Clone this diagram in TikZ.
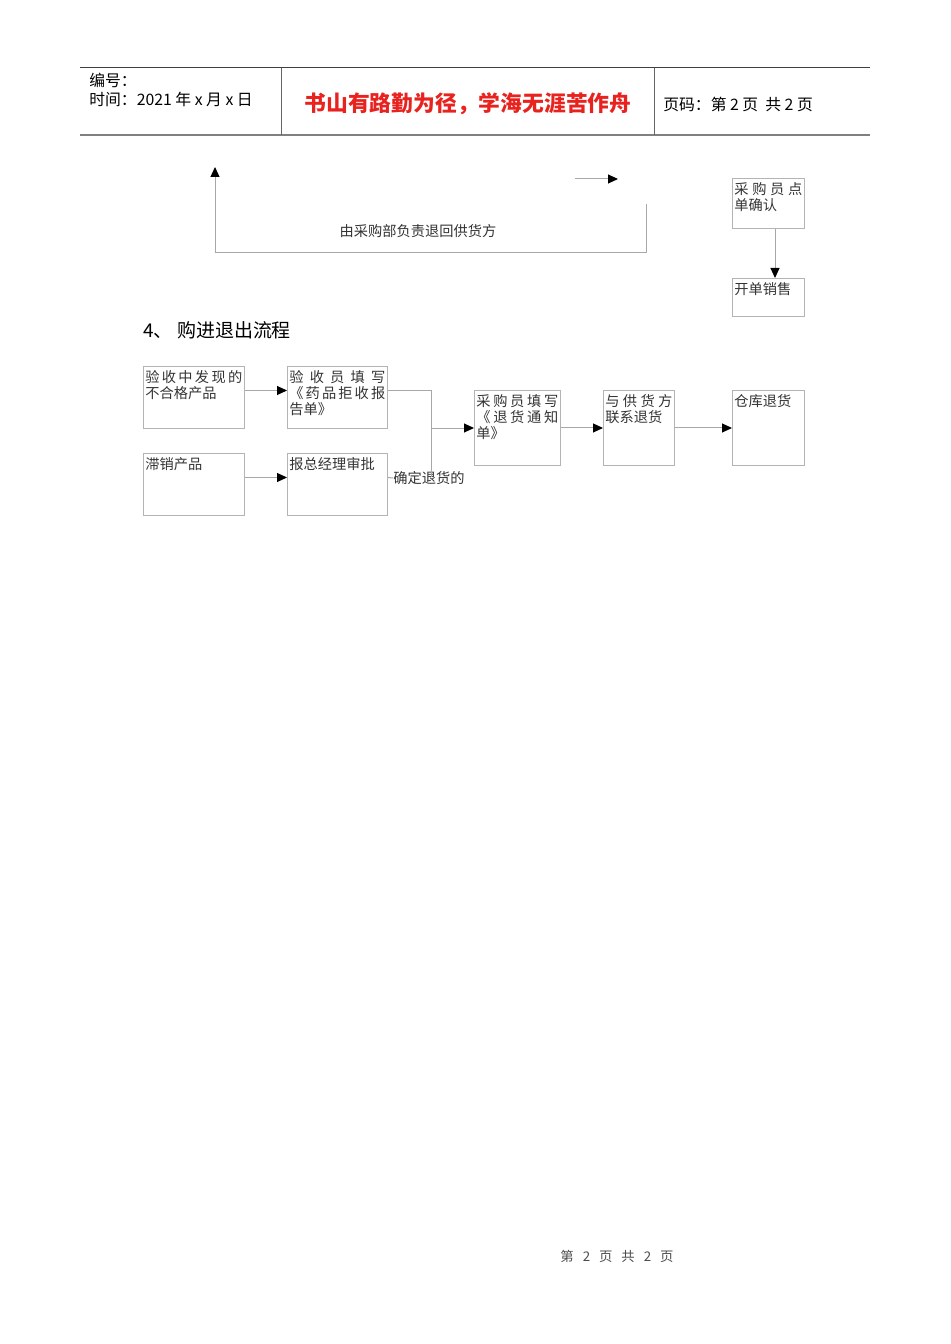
\documentclass[tikz,border=0pt]{standalone}
\usepackage{fontspec}
\setmainfont{Noto Sans CJK SC}
\usepackage{tikz}
\usetikzlibrary{arrows.meta}

\definecolor{boxgray}{HTML}{B4B4B4}
\definecolor{linegray}{HTML}{A8A8A8}
\definecolor{textgray}{HTML}{333333}
\definecolor{titlered}{HTML}{E8231F}

\newcommand{\flowfont}{\fontsize{8.1}{9.2}\selectfont}
\newcommand{\headfont}{\fontsize{9}{11}\selectfont}
\newcommand{\spreadline}[1]{\makebox[\hsize]{#1}}

\tikzset{
  box/.style 2 args={draw=boxgray, line width=0.02cm, minimum width=#1,
    minimum height=#2, anchor=north west, inner sep=0pt},
  boxtext/.style={anchor=north west, inner xsep=0.04cm, inner ysep=0.08cm,
    align=left, font=\flowfont, text=textgray},
  conn/.style={draw=linegray, line width=0.02cm, ->},
  plain/.style={draw=linegray, line width=0.02cm}
}

\begin{document}
\begin{tikzpicture}[x=0.02cm,y=-0.02cm,line cap=butt,
  >={Triangle[length=0.2cm,width=0.18cm,color=black]}]

\useasboundingbox (0,0) rectangle (950,1344);

% header
\draw[draw=black!75, line width=0.02cm] (80,68) -- (870,68);
\draw[draw=black!50, line width=0.04cm] (80,135) -- (870,135);
\draw[draw=black!60, line width=0.02cm] (281,68) -- (281,135);
\draw[draw=black!60, line width=0.02cm] (654,68) -- (654,135);
\node[anchor=west, inner sep=0pt, font=\headfont] (hno) at (89,80) {编号：};
\node[anchor=west, inner sep=0pt, font=\headfont] (hdate) at (89,99) {时间：2021 年 x 月 x 日};
\node[inner sep=0pt, font=\fontsize{12.4}{14}\selectfont\bfseries, text=titlered] (htitle) at (468,104) {书山有路勤为径，学海无涯苦作舟};
\node[anchor=west, inner sep=0pt, font=\headfont] (hpage) at (663,104) {页码：第 2 页\ \ 共 2 页};

% tail of the previous chart
\coordinate (u1) at (646,204);
\coordinate (u2) at (215,167);
\coordinate (u3) at (215,253);
\draw[conn] (u1) |- (u3) -- (u2);
\coordinate (v1) at (575,179);
\coordinate (v2) at (618,179);
\draw[conn] (v1) -- (v2);
\node[inner sep=0pt, font=\flowfont, text=textgray] (back) at (418,231) {由采购部负责退回供货方};

\node[box={1.44cm}{1.0cm}] (b8) at (732,178) {};
\node[boxtext, text width=1.36cm] (b8t) at (b8.north west) {\spreadline{采\hfill 购\hfill 员\hfill 点}\\单确认};
\node[box={1.44cm}{0.76cm}] (b9) at (732,278) {};
\node[boxtext, text width=1.36cm] (b9t) at (b9.north west) {开单销售};
\draw[conn] ([xshift=0.86cm]b8.south west) -- ([xshift=0.86cm]b9.north west);

% section 4
\node[anchor=west, inner sep=0pt, font=\fontsize{10.8}{12}\selectfont] (sec) at (143,330) {4、\ 购进退出流程};

\node[box={2.02cm}{1.24cm}] (b1) at (143,366) {};
\node[boxtext, text width=1.94cm] (b1t) at (b1.north west) {\spreadline{验\hfill 收\hfill 中\hfill 发\hfill 现\hfill 的}\\不合格产品};
\node[box={2.0cm}{1.24cm}] (b2) at (287,366) {};
\node[boxtext, text width=1.92cm] (b2t) at (b2.north west) {\spreadline{验\hfill 收\hfill 员\hfill 填\hfill 写}\\\spreadline{《\hfill 药\hfill 品\hfill 拒\hfill 收\hfill 报}\\告单》};
\node[box={2.02cm}{1.24cm}] (b3) at (143,453) {};
\node[boxtext, text width=1.94cm] (b3t) at (b3.north west) {滞销产品};
\node[box={2.0cm}{1.24cm}] (b4) at (287,453) {};
\node[boxtext, text width=1.92cm] (b4t) at (b4.north west) {报总经理审批};
\node[box={1.72cm}{1.5cm}] (b5) at (474,390) {};
\node[boxtext, text width=1.64cm] (b5t) at (b5.north west) {\spreadline{采\hfill 购\hfill 员\hfill 填\hfill 写}\\\spreadline{《\hfill 退\hfill 货\hfill 通\hfill 知}\\单》};
\node[box={1.42cm}{1.5cm}] (b6) at (603,390) {};
\node[boxtext, text width=1.34cm] (b6t) at (b6.north west) {\spreadline{与\hfill 供\hfill 货\hfill 方}\\联系退货};
\node[box={1.44cm}{1.5cm}] (b7) at (732,390) {};
\node[boxtext, text width=1.36cm] (b7t) at (b7.north west) {仓库退货};

\node[anchor=west, inner sep=0pt, font=\flowfont, text=textgray] (ok) at (393,478) {确定退货的};
\coordinate (j1) at (431,428);
\coordinate (j2) at (431,477);

\draw[conn] ([yshift=0.14cm]b1.east) -- ([yshift=0.14cm]b2.west);
\draw[conn] ([yshift=0.14cm]b3.east) -- ([yshift=0.14cm]b4.west);
\draw[plain] ([yshift=0.14cm]b2.east) -| (j2);
\draw[plain] ([yshift=0.14cm]b4.east) -- (ok.west);
\draw[conn] (j1) -- (j1 -| b5.west);
\draw[conn] (b5.east) -- (b6.west);
\draw[conn] (b6.east) -- (b7.west);

% footer
\node[inner sep=0pt, font=\fontsize{7.6}{9}\selectfont, text=black!70] (foot) at (617,1256) {第\ \ \ 2\ \ \ 页\ \ \ 共\ \ \ 2\ \ \ 页};

\end{tikzpicture}
\end{document}
